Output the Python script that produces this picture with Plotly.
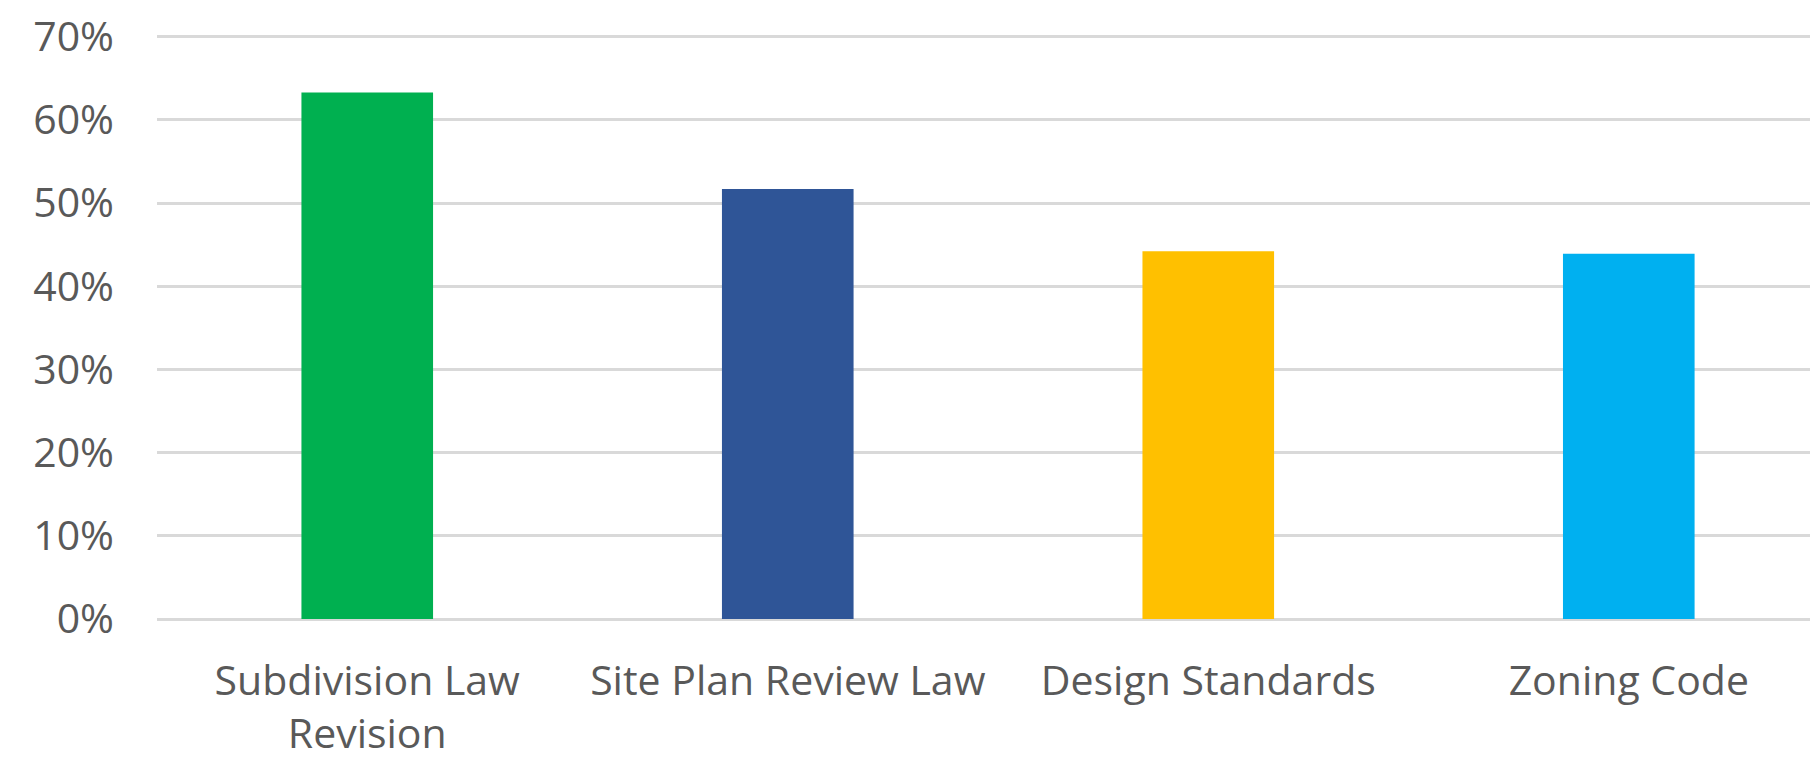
import plotly.graph_objects as go

# données
categories = ["Subdivision Law<br>Revision", "Site Plan Review Law", "Design Standards", "Zoning Code"]
valeurs = [63.3, 51.7, 44.2, 43.9]
couleurs = ["#00B050", "#2F5597", "#FFC000", "#00B0F0"]
ticks_y = [0, 10, 20, 30, 40, 50, 60, 70]
labels_y = ["0%", "10%", "20%", "30%", "40%", "50%", "60%", "70%"]

fig = go.Figure()
fig.add_trace(go.Bar(
    x=list(range(len(categories))),
    y=valeurs,
    marker=dict(color=couleurs, line=dict(width=0)),
    width=0.313,
))

# marges compensées (la page html ajoute 8 px autour)
fig.update_layout(
    width=1818,
    height=766,
    margin=dict(l=149, r=0, t=27, b=155),
    paper_bgcolor="white",
    plot_bgcolor="white",
    showlegend=False,
    font=dict(family="Open Sans", size=40, color="#595959"),
    xaxis=dict(
        range=[-0.5, 3.469],
        tickvals=list(range(len(categories))),
        ticktext=categories,
        showgrid=False,
        zeroline=False,
        ticks="",
        automargin=False,
        ticklabelstandoff=34,
        ticklabeloverflow="allow",
        tickfont=dict(size=41, color="#595959"),
    ),
    yaxis=dict(
        range=[0, 70.2],
        tickvals=ticks_y,
        ticktext=labels_y,
        showgrid=True,
        gridcolor="#D9D9D9",
        gridwidth=2.5,
        zeroline=True,
        zerolinecolor="#D9D9D9",
        zerolinewidth=2.5,
        ticks="",
        automargin=False,
        ticklabelstandoff=42,
        ticklabeloverflow="allow",
        tickfont=dict(size=41, color="#595959"),
    ),
)

fig.write_html("out.html")
